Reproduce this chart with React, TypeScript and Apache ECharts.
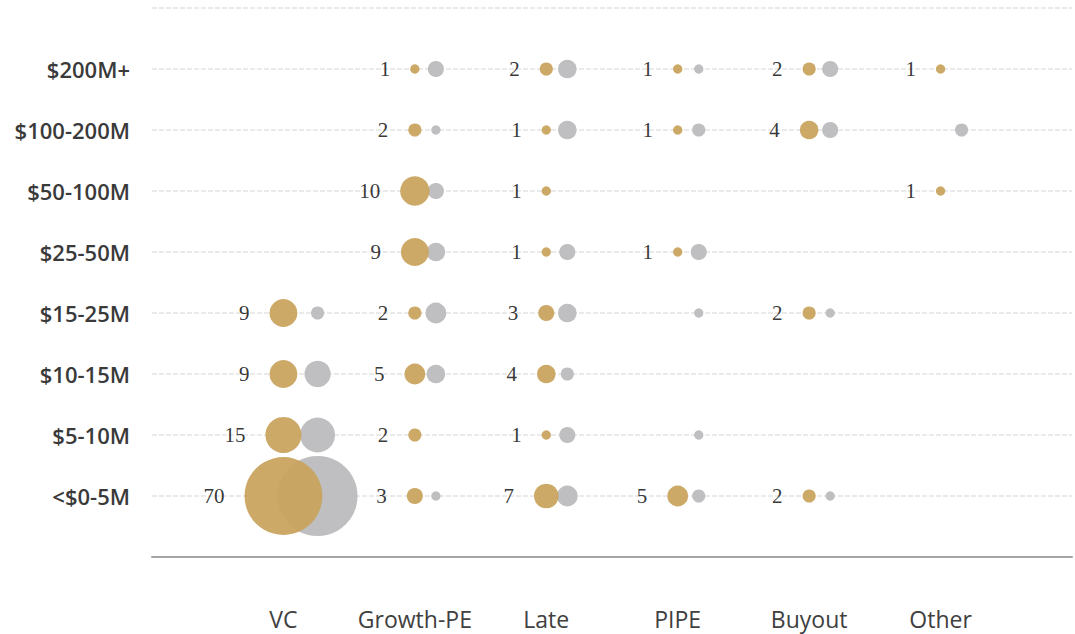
import React, { useEffect, useRef } from "react";
import * as echarts from "echarts";

// Deal types (x categories, left to right)
const categories = ["VC", "Growth-PE", "Late", "PIPE", "Buyout", "Other"];
// Deal size bands (y categories, bottom to top)
const sizeBands = ["<$0-5M", "$5-10M", "$10-15M", "$15-25M", "$25-50M", "$50-100M", "$100-200M", "$200M+"];

// Current-period deal counts (gold), per category, bottom band to top band
const goldVC = [70, 15, 9, 9, 0, 0, 0, 0];
const goldGrowth = [3, 2, 5, 2, 9, 10, 2, 1];
const goldLate = [7, 1, 4, 3, 1, 1, 1, 2];
const goldPIPE = [5, 0, 0, 0, 1, 0, 1, 1];
const goldBuyout = [2, 0, 0, 2, 0, 0, 4, 2];
const goldOther = [0, 0, 0, 0, 0, 1, 0, 1];

// Comparison-period deal counts (gray)
const grayVC = [74, 14, 8, 2, 0, 0, 0, 0];
const grayGrowth = [1, 0, 4, 5, 4, 3, 1, 3];
const grayLate = [5, 3, 2, 4, 3, 0, 4, 4];
const grayPIPE = [2, 1, 0, 1, 3, 0, 2, 1];
const grayBuyout = [1, 0, 0, 1, 0, 0, 3, 3];
const grayOther = [0, 0, 0, 0, 0, 0, 2, 0];

const goldCounts = [goldVC, goldGrowth, goldLate, goldPIPE, goldBuyout, goldOther];
const grayCounts = [grayVC, grayGrowth, grayLate, grayPIPE, grayBuyout, grayOther];

// x offset of the gray bubble from its category position
const grayOffset = [0.26, 0.16, 0.16, 0.16, 0.16, 0.16];

export default function App() {
  const ref = useRef<HTMLDivElement>(null);
  useEffect(() => {
    if (!ref.current) return;
    const chart = echarts.init(ref.current, null, { renderer: "svg" });

    const goldData: number[][] = [];
    const grayData: number[][] = [];
    categories.forEach((_, ci) => {
      sizeBands.forEach((_, bi) => {
        const g = goldCounts[ci][bi];
        const s = grayCounts[ci][bi];
        if (s > 0) grayData.push([ci + 1 + grayOffset[ci], bi + 1, s]);
        if (g > 0) goldData.push([ci + 1, bi + 1, g]);
      });
    });

    const sizeFn = (v: number[]) => 9.3 * Math.sqrt(v[2]);

    chart.setOption({
      animation: false,
      backgroundColor: "#ffffff",
      grid: { left: 152, right: 0, top: 8, bottom: 77 },
      xAxis: {
        type: "value",
        min: 0,
        max: 7,
        interval: 1,
        axisLine: { show: true, lineStyle: { color: "#a6a6a6", width: 2 } },
        axisTick: { show: false },
        splitLine: { show: false },
        axisLabel: {
          margin: 50,
          fontFamily: "Open Sans",
          fontSize: 23,
          color: "#404040",
          formatter: (v: number) => (v >= 1 && v <= categories.length ? categories[v - 1] : ""),
        },
      },
      yAxis: {
        type: "value",
        min: 0,
        max: 9,
        interval: 1,
        axisLine: { show: false },
        axisTick: { show: false },
        splitLine: { show: true, lineStyle: { color: "#e4e4e4", width: 1.5, type: [5, 2] } },
        axisLabel: {
          margin: 22,
          fontFamily: "Open Sans",
          fontWeight: 600,
          fontSize: 22,
          color: "#3a3a3a",
          formatter: (v: number) => (v >= 1 && v <= sizeBands.length ? sizeBands[v - 1] : ""),
        },
      },
      series: [
        {
          type: "scatter",
          data: grayData,
          symbolSize: sizeFn,
          itemStyle: { color: "#bfbfc1", opacity: 1 },
          silent: true,
          z: 2,
        },
        {
          type: "scatter",
          data: goldData,
          symbolSize: sizeFn,
          itemStyle: { color: "#c8a25a", opacity: 0.93 },
          label: {
            show: true,
            position: "left",
            distance: 20,
            fontFamily: "Liberation Serif",
            fontSize: 21,
            color: "#262626",
            formatter: (p: any) => String(p.value[2]),
          },
          silent: true,
          z: 3,
        },
      ],
    });
    return () => chart.dispose();
  }, []);
  return (
    <div
      ref={ref}
      style={{ position: "fixed", left: 0, top: 0, width: 1075, height: 634, background: "#fff" }}
    />
  );
}
